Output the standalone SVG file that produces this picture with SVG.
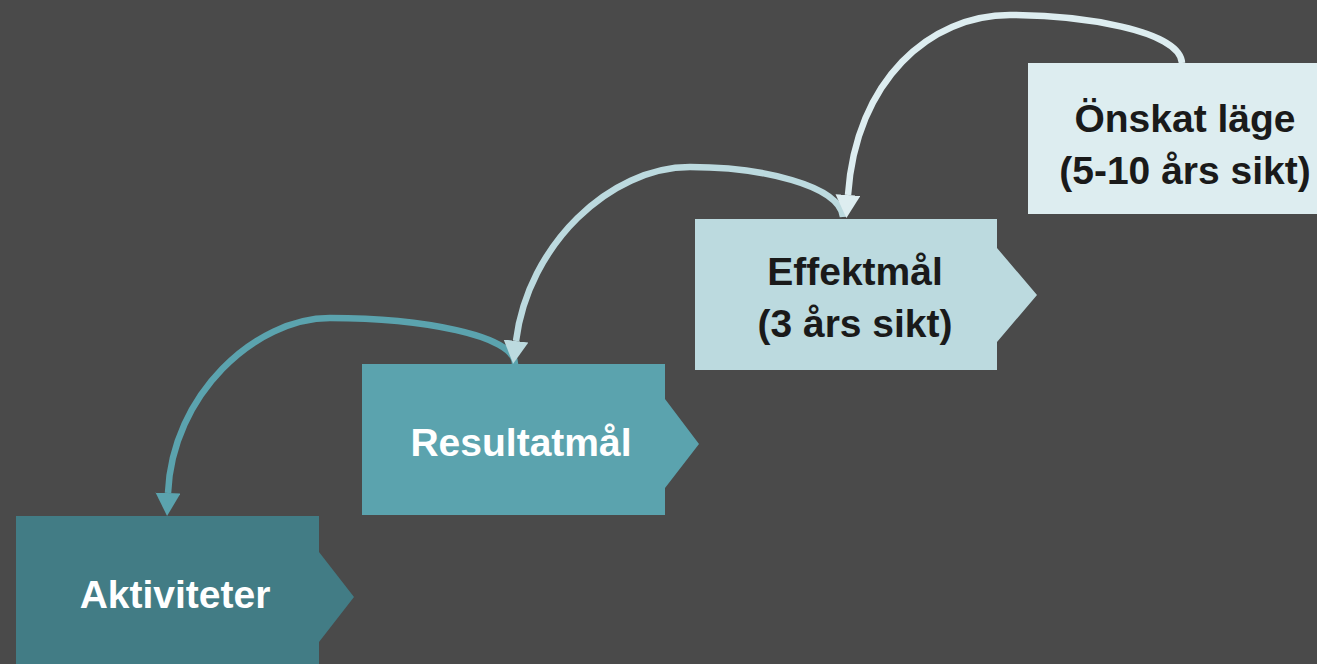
<svg xmlns="http://www.w3.org/2000/svg" width="1317" height="664" viewBox="0 0 1317 664">
  <style>
    .lbl { font-family: "Liberation Sans", Arial, sans-serif; font-weight: bold; font-size: 39px; text-anchor: middle; }
    .light { fill: #ffffff; }
    .dark { fill: #1a1a1a; }
    .conn { fill: none; stroke-width: 6.5; stroke-linecap: butt; }
  </style>
  <defs>
    <marker id="ah1" markerUnits="userSpaceOnUse" markerWidth="23" markerHeight="25" viewBox="0 0 23 25" refX="0" refY="12.5" orient="auto">
      <path d="M0,0 L23,12.5 L0,25 z" fill="#5ba3ae"/>
    </marker>
    <marker id="ah2" markerUnits="userSpaceOnUse" markerWidth="23" markerHeight="25" viewBox="0 0 23 25" refX="0" refY="12.5" orient="auto">
      <path d="M0,0 L23,12.5 L0,25 z" fill="#bcdadf"/>
    </marker>
    <marker id="ah3" markerUnits="userSpaceOnUse" markerWidth="23" markerHeight="25" viewBox="0 0 23 25" refX="0" refY="12.5" orient="auto">
      <path d="M0,0 L23,12.5 L0,25 z" fill="#ddedf0"/>
    </marker>
  </defs>
  <rect x="0" y="0" width="1317" height="664" fill="#4a4a4a"/>

  <g id="node-aktiviteter">
    <polygon points="16,516 319,516 319,552 354,597 319,642 319,667 16,667" fill="#427c85"/>
    <text class="lbl light" x="175" y="608">Aktiviteter</text>
  </g>
  <g id="node-resultatmal">
    <polygon points="362,364 665,364 665,399 699,444 665,488 665,515 362,515" fill="#5ba3ae"/>
    <text class="lbl light" x="521" y="456">Resultatmål</text>
  </g>
  <g id="node-effektmal">
    <polygon points="695,219 997,219 997,248 1037,295 997,342 997,370 695,370" fill="#bcdadf"/>
    <text class="lbl dark" x="855" y="285">Effektmål</text>
    <text class="lbl dark" x="855" y="337">(3 års sikt)</text>
  </g>
  <g id="node-onskat">
    <rect x="1028" y="63" width="300" height="151" fill="#ddedf0"/>
    <text class="lbl dark" x="1185" y="132">Önskat läge</text>
    <text class="lbl dark" x="1185" y="184">(5-10 års sikt)</text>
  </g>

  <g id="connectors">
    <path class="conn" stroke="#5ba3ae" marker-end="url(#ah1)" d="M515,364 C515,335 420,318 330,318 C255,318 172,395 168,493"/>
    <path class="conn" stroke="#bcdadf" marker-end="url(#ah2)" d="M843,217 C840,185 760,167 690,167 C610,167 528,245 516,341"/>
    <path class="conn" stroke="#ddedf0" marker-end="url(#ah3)" d="M1182,63 C1180,30 1080,15 1010,15 C930,15 856,80 848,195"/>
  </g>
</svg>
